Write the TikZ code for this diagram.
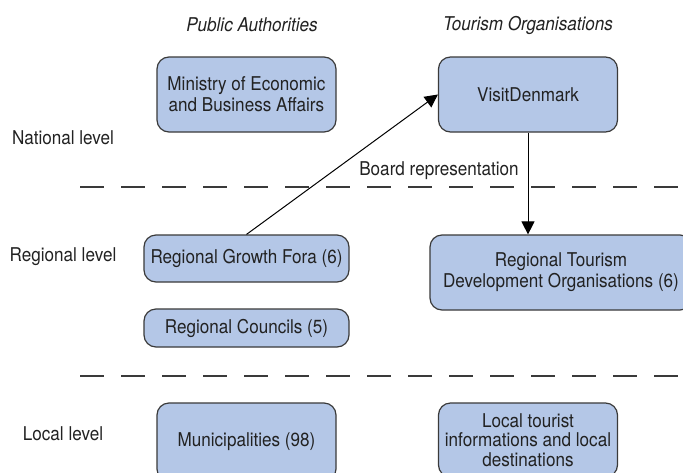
\documentclass[tikz,border=0pt]{standalone}
\usepackage{fontspec}
\setmainfont{TeX Gyre Heros}[FakeStretch=0.9]
\usetikzlibrary{arrows.meta,positioning}
\definecolor{boxblue}{HTML}{B4C7E7}
\definecolor{edgegrey}{HTML}{3A3A3A}
\definecolor{inkgrey}{HTML}{222222}

\begin{document}
\begin{tikzpicture}[x=1pt,y=-1pt,
    font=\fontsize{19}{21}\selectfont,
    orgbox/.style={draw=edgegrey,line width=1.2pt,rounded corners=12pt,fill=boxblue,text=inkgrey,align=center,inner sep=2pt},
    lvl/.style={text=inkgrey},
    head/.style={text=inkgrey,font=\fontsize{19}{21}\selectfont\itshape},
    sep/.style={line width=1.2pt,edgegrey,dash pattern=on 24pt off 17pt},
    link/.style={-{Triangle[length=13pt,width=13pt]},line width=1pt,black}]
  \useasboundingbox (0,0) rectangle (683,472);
  \fill[white] (0,0) rectangle (683,472);

  % column headings
  \node[head] (pubhead) at (252,25) {Public Authorities};
  \node[head] (tourhead) at (528,25) {Tourism Organisations};

  % level labels
  \node[lvl] (natl) at (63,138) {National level};
  \node[lvl] (regl) at (63,257) {Regional level};
  \node[lvl] (locl) at (63,434) {Local level};

  % level separators
  \draw[sep] (80,187) -- (683,187);
  \draw[sep] (80,376) -- (683,376);

  % national level
  \node[orgbox,minimum width=179pt,minimum height=75pt] (ministry) at (246.5,94.5) {Ministry of Economic\\and Business Affairs};
  \node[orgbox,minimum width=179pt,minimum height=75pt] (visit) at (528,94.5) {VisitDenmark};

  % regional level
  \node[orgbox,minimum width=205pt,minimum height=47pt] (fora) at (246.5,258.5) {Regional Growth Fora (6)};
  \node[orgbox,minimum width=205pt,minimum height=38pt] (councils) at (246.5,328) {Regional Councils (5)};
  \node[orgbox,minimum width=262pt,minimum height=75pt] (rtdo) at (561,272.5) {Regional Tourism\\Development Organisations (6)};

  % local level
  \node[orgbox,minimum width=179pt,minimum height=78pt] (munic) at (246.5,442) {Municipalities (98)};
  \node[orgbox,minimum width=179pt,minimum height=74pt,font=\fontsize{19}{19.5}\selectfont] (localinfo) at (528,440) {Local tourist\\informations and local\\destinations};

  % links
  \draw[link] (fora.north) -- (visit.west);
  \draw[link] (visit.south) -- (visit.south |- rtdo.north);
  \node[lvl] (board) at (439,171) {Board representation};
\end{tikzpicture}
\end{document}
